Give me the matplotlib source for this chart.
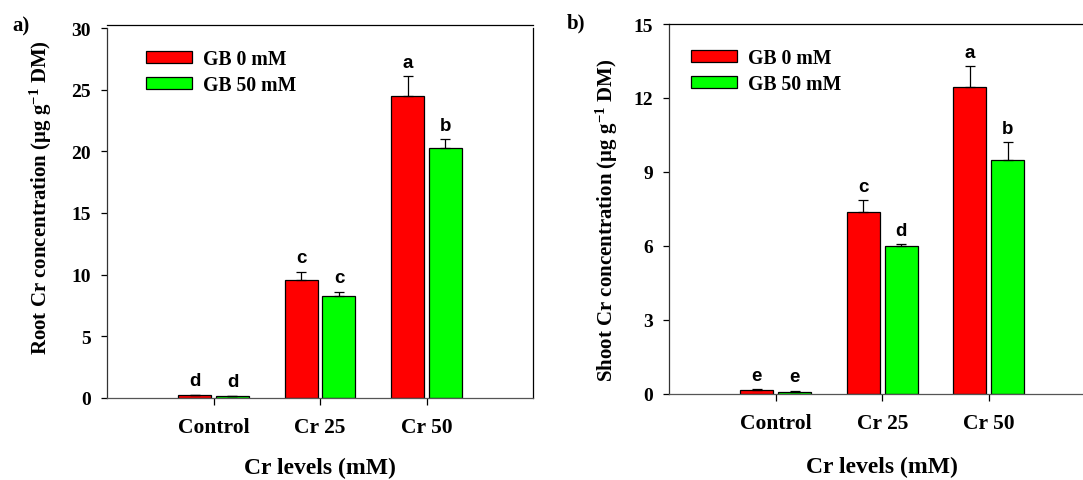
import numpy as np
import matplotlib
matplotlib.use("Agg")
import matplotlib.pyplot as plt

plt.rcParams["font.family"] = "Liberation Serif"
plt.rcParams["font.weight"] = "bold"
plt.rcParams["axes.labelweight"] = "bold"
plt.rcParams["mathtext.fontset"] = "custom"
plt.rcParams["mathtext.rm"] = "Liberation Serif:bold"
plt.rcParams["mathtext.it"] = "Liberation Serif:bold"
plt.rcParams["mathtext.bf"] = "Liberation Serif:bold"

# data
categories = ["Control", "Cr 25", "Cr 50"]
series_names = ["GB 0 mM", "GB 50 mM"]

root_gb0 = [0.19, 9.55, 24.5]
root_gb0_err = [0.03, 0.68, 1.62]
root_gb50 = [0.13, 8.29, 20.27]
root_gb50_err = [0.02, 0.33, 0.70]
root_letters_gb0 = ["d", "c", "a"]
root_letters_gb50 = ["d", "c", "b"]

shoot_gb0 = [0.16, 7.37, 12.45]
shoot_gb0_err = [0.02, 0.47, 0.83]
shoot_gb50 = [0.08, 5.99, 9.49]
shoot_gb50_err = [0.04, 0.07, 0.70]
shoot_letters_gb0 = ["e", "c", "a"]
shoot_letters_gb50 = ["e", "d", "b"]

colors = ["#ff0000", "#00ff00"]

fig = plt.figure(figsize=(10.83, 4.81), dpi=100)
ax1 = fig.add_axes([0.0988, 0.1711, 0.3934, 0.7749])
ax2 = fig.add_axes([0.618, 0.1798, 0.3934, 0.7682])

x = np.arange(len(categories))
w = 0.31
off = 0.178


def draw_panel(ax, v0, e0, v1, e1, l0, l1, ylabel, ymax, ytop, yticks, leg_x):
    for vals, errs, letters, col, sh, name in [
        (v0, e0, l0, colors[0], -off, series_names[0]),
        (v1, e1, l1, colors[1], off, series_names[1]),
    ]:
        ax.bar(x + sh, vals, w, color=col, edgecolor="black", linewidth=0.9, label=name, zorder=2)
        ax.errorbar(x + sh, vals, yerr=[np.zeros(len(errs)), errs], fmt="none",
                    ecolor="black", elinewidth=0.9, capsize=3.5, capthick=0.9, zorder=3)
        for xi, v, e, t in zip(x + sh, vals, errs, letters):
            ax.annotate(t, (xi, v + e), xytext=(0, 4), textcoords="offset points",
                        ha="center", va="bottom", fontsize=13.5, fontweight="bold",
                        family="Liberation Sans")
    ax.set_xlim(-1, 3)
    ax.set_ylim(0, ytop)
    ax.set_yticks(yticks)
    ax.set_xticks(x)
    ax.set_xticklabels(categories, fontsize=15.5)
    ax.tick_params(axis="y", direction="out", length=4.5, width=0.9, pad=7, labelsize=14)
    ax.tick_params(axis="x", direction="out", length=5, width=0.9, pad=9)
    for s in ["left", "right"]:
        ax.spines[s].set_bounds(0, ymax)
    for s in ax.spines.values():
        s.set_linewidth(0.9)
    ax.spines["bottom"].set_color("#555555")
    ax.spines["left"].set_color("#333333")
    ax.set_ylabel(ylabel, fontsize=15, fontweight="bold")
    ax.set_xlabel("Cr levels (mM)", fontsize=17, fontweight="bold")
    ax.legend(loc="upper left", bbox_to_anchor=(leg_x, 0.935), frameon=False,
              fontsize=14.2, handlelength=2.33, handleheight=0.54, handletextpad=0.56,
              labelspacing=0.3, borderpad=0, borderaxespad=0)


draw_panel(ax1, root_gb0, root_gb0_err, root_gb50, root_gb50_err,
           root_letters_gb0, root_letters_gb50,
           "Root Cr concentration (μg g$^{-1}$ DM)", 30, 30.27, [0, 5, 10, 15, 20, 25, 30], 0.092)
draw_panel(ax2, shoot_gb0, shoot_gb0_err, shoot_gb50, shoot_gb50_err,
           shoot_letters_gb0, shoot_letters_gb50,
           "Shoot Cr concentration (μg g$^{-1}$ DM)", 15, 15, [0, 3, 6, 9, 12, 15], 0.051)

ax1.yaxis.set_label_coords(-0.125, 0.54)
ax2.yaxis.set_label_coords(-0.116, 0.47)
ax1.xaxis.set_label_coords(0.5, -0.158)
ax2.xaxis.set_label_coords(0.5, -0.17)

fig.text(12 / 1083, 1 - 16 / 481, "a)", fontsize=15, fontweight="bold", va="top")
fig.text(567 / 1083, 1 - 13 / 481, "b)", fontsize=15, fontweight="bold", va="top")

fig.savefig("out.png", dpi=100)
